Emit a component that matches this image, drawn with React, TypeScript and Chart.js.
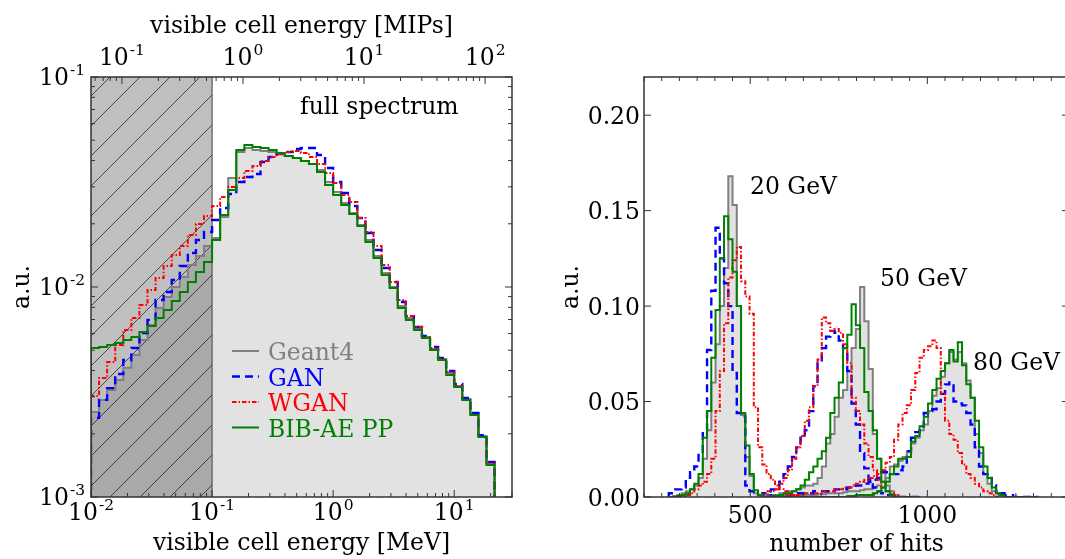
import React, { useEffect, useRef } from 'react';
import { Chart, registerables } from 'chart.js';

Chart.register(...registerables);

// ---------------- LEFT PANEL: full spectrum (log-log) ----------------
const ENERGY_EDGES_MEV = [
  0.01, 0.01166, 0.01359, 0.01585, 0.01848, 0.02154, 0.02512, 0.02929, 0.03415, 0.03981, 0.04642, 0.05412, 0.0631, 0.07356, 0.08577,
  0.1, 0.1166, 0.1359, 0.1585, 0.1848, 0.2154, 0.2512, 0.2929, 0.3415, 0.3981, 0.4642, 0.5412, 0.631, 0.7356, 0.8577,
  1, 1.166, 1.359, 1.585, 1.848, 2.154, 2.512, 2.929, 3.415, 3.981, 4.642, 5.412, 6.31, 7.356, 8.577,
  10, 11.66, 13.59, 15.85, 18.48, 21.54,
];
const SPEC_GEANT4 = [
  0.00254, 0.0029, 0.00323, 0.00361, 0.00412, 0.00475, 0.00559, 0.00659, 0.00794, 0.00896, 0.01, 0.01116, 0.01273, 0.01405, 0.01567,
  0.01711, 0.02154, 0.03304, 0.04394, 0.04592, 0.04493, 0.04444, 0.04394, 0.043, 0.04206, 0.04115, 0.03981, 0.03852, 0.03606, 0.03162,
  0.02835, 0.02512, 0.02251, 0.01973, 0.01674, 0.01405, 0.01166, 0.01, 0.00812, 0.00712, 0.00638, 0.00578, 0.00507, 0.00454, 0.0039,
  0.00338, 0.00293, 0.00248, 0.00195, 0.00145,
];
const SPEC_GAN = [
  0.00238, 0.0029, 0.0033, 0.00385, 0.00449, 0.00512, 0.00604, 0.00697, 0.00867, 0.00947, 0.0108, 0.01259, 0.01451, 0.01674, 0.01827,
  0.02085, 0.02378, 0.02772, 0.03162, 0.0334, 0.03452, 0.03938, 0.0416, 0.043, 0.04394, 0.04542, 0.04592, 0.04592, 0.04252, 0.03687,
  0.03162, 0.02804, 0.0243, 0.02131, 0.01807, 0.015, 0.01232, 0.01056, 0.00848, 0.00727, 0.00645, 0.00584, 0.00518, 0.00459, 0.00398,
  0.00345, 0.00296, 0.00251, 0.00197, 0.00147,
];
const SPEC_WGAN = [
  0.00303, 0.00369, 0.00439, 0.00529, 0.00624, 0.00712, 0.00821, 0.00968, 0.01104, 0.01259, 0.0142, 0.01567, 0.01768, 0.01995, 0.02178,
  0.0243, 0.02683, 0.02993, 0.03304, 0.03567, 0.03769, 0.03981, 0.0416, 0.043, 0.04394, 0.04444, 0.04347, 0.0416, 0.03852, 0.0349,
  0.03128, 0.02742, 0.0254, 0.02131, 0.01827, 0.01567, 0.01273, 0.01056, 0.00867, 0.00727, 0.00645, 0.00578, 0.00512, 0.00454, 0.00394,
  0.00338, 0.0029, 0.00246, 0.00193, 0.00144,
];
const SPEC_BIBAE = [
  0.00512, 0.00518, 0.00529, 0.00541, 0.00559, 0.00578, 0.0061, 0.00652, 0.00712, 0.00777, 0.00858, 0.00947, 0.01056, 0.01179, 0.01315,
  0.01674, 0.02202, 0.02897, 0.04493, 0.04744, 0.04642, 0.04592, 0.04493, 0.04347, 0.04206, 0.04115, 0.03981, 0.03852, 0.03527, 0.03059,
  0.02742, 0.02457, 0.02226, 0.01952, 0.01637, 0.01374, 0.01141, 0.00989, 0.00794, 0.00697, 0.00624, 0.00572, 0.00501, 0.00449, 0.00381,
  0.00334, 0.0029, 0.00246, 0.00193, 0.00142,
];
const MEV_PER_MIP = 0.18;
const ENERGY_RANGE_MEV = [0.01, 30];
const SPEC_Y_RANGE = [1e-3, 1e-1];
const HATCH_RANGE_MEV = [0.01, 0.1];
const MEV_TICK_EXPONENTS = [-2, -1, 0, 1];
const MIP_TICK_EXPONENTS = [-1, 0, 1, 2];
const SPEC_Y_TICK_EXPONENTS = [-3, -2, -1];

// ---------------- RIGHT PANEL: number of hits ----------------
const HIT_BIN_WIDTH = 12;
const HITS20_FIRST_EDGE = 270;
const HITS50_FIRST_EDGE = 534;
const HITS80_FIRST_EDGE = 606;

const HITS20_GEANT4 = [0, 0.0005, 0.001, 0.002, 0.003, 0.004, 0.006, 0.01, 0.02, 0.035, 0.06, 0.08, 0.1, 0.12, 0.168, 0.153, 0.1, 0.043, 0.021, 0.011, 0.002, 0.001, 0.0005, 0, 0, 0, 0, 0, 0, 0];
const HITS20_GAN = [0.002, 0.004, 0.004, 0.005, 0.01, 0.013, 0.016, 0.023, 0.035, 0.077, 0.108, 0.141, 0.125, 0.112, 0.1, 0.065, 0.044, 0.042, 0.006, 0.003, 0.002, 0.001, 0.001, 0.001, 0.0005, 0, 0, 0, 0, 0];
const HITS20_WGAN = [0, 0, 0, 0.0005, 0.001, 0.002, 0.004, 0.006, 0.008, 0.012, 0.02, 0.045, 0.066, 0.091, 0.115, 0.124, 0.131, 0.113, 0.105, 0.096, 0.047, 0.026, 0.017, 0.012, 0.009, 0.006, 0.004, 0.003, 0.002, 0.001];
const HITS20_BIBAE = [0, 0, 0.0005, 0.001, 0.002, 0.004, 0.007, 0.012, 0.031, 0.045, 0.073, 0.098, 0.125, 0.147, 0.135, 0.118, 0.1, 0.044, 0.027, 0.012, 0.0035, 0.001, 0, 0, 0, 0, 0, 0, 0, 0];

const HITS50_GEANT4 = [0.0005, 0.001, 0.001, 0.001, 0.002, 0.002, 0.003, 0.003, 0.004, 0.005, 0.006, 0.006, 0.007, 0.01, 0.016, 0.028, 0.033, 0.042, 0.052, 0.056, 0.066, 0.078, 0.088, 0.11, 0.092, 0.067, 0.033, 0.02, 0.014, 0.006, 0.003, 0.001, 0, 0, 0, 0, 0];
const HITS50_GAN = [0.002, 0.003, 0.004, 0.005, 0.008, 0.012, 0.016, 0.021, 0.026, 0.031, 0.035, 0.045, 0.058, 0.07, 0.078, 0.084, 0.087, 0.086, 0.082, 0.078, 0.066, 0.049, 0.038, 0.023, 0.015, 0.009, 0.005, 0.003, 0.002, 0.001, 0.001, 0, 0, 0, 0, 0, 0];
const HITS50_WGAN = [0.002, 0.003, 0.003, 0.004, 0.007, 0.01, 0.014, 0.02, 0.026, 0.032, 0.04, 0.047, 0.058, 0.072, 0.094, 0.091, 0.087, 0.088, 0.086, 0.08, 0.07, 0.052, 0.045, 0.038, 0.028, 0.021, 0.014, 0.009, 0.005, 0.003, 0.002, 0.001, 0, 0, 0, 0, 0];
const HITS50_BIBAE = [0, 0, 0.0005, 0.0005, 0.001, 0.002, 0.002, 0.003, 0.004, 0.006, 0.009, 0.013, 0.016, 0.02, 0.024, 0.031, 0.044, 0.052, 0.06, 0.078, 0.085, 0.101, 0.09, 0.078, 0.055, 0.045, 0.035, 0.02, 0.008, 0.003, 0.001, 0, 0, 0, 0, 0, 0];

const HITS80_GEANT4 = [
  0.0005, 0.0005, 0.001, 0.001, 0.001, 0.001, 0.001, 0.0015, 0.0015, 0.002,
  0.002, 0.002, 0.002, 0.0025, 0.003, 0.003, 0.003, 0.0035, 0.004, 0.004,
  0.005, 0.006, 0.008, 0.01, 0.016, 0.017, 0.019, 0.021, 0.024, 0.028,
  0.031, 0.035, 0.038, 0.045, 0.053, 0.057, 0.063, 0.07, 0.076, 0.072,
  0.076, 0.07, 0.061, 0.052, 0.033, 0.023, 0.012, 0.007, 0.003, 0.002,
  0.001, 0, 0, 0, 0, 0, 0, 0, 0,
];
const HITS80_GAN = [
  0.001, 0.001, 0.002, 0.002, 0.002, 0.002, 0.003, 0.003, 0.003, 0.003,
  0.003, 0.004, 0.004, 0.004, 0.005, 0.005, 0.006, 0.006, 0.007, 0.008,
  0.009, 0.01, 0.013, 0.013, 0.012, 0.012, 0.014, 0.016, 0.024, 0.031,
  0.034, 0.037, 0.044, 0.045, 0.046, 0.05, 0.054, 0.059, 0.06, 0.05,
  0.049, 0.048, 0.044, 0.038, 0.026, 0.016, 0.012, 0.01, 0.006, 0.003,
  0.002, 0.001, 0.001, 0, 0, 0, 0, 0, 0,
];
const HITS80_WGAN = [
  0.001, 0.001, 0.001, 0.001, 0.002, 0.002, 0.002, 0.002, 0.003, 0.003,
  0.003, 0.004, 0.004, 0.005, 0.005, 0.006, 0.007, 0.008, 0.009, 0.01,
  0.011, 0.012, 0.014, 0.018, 0.021, 0.03, 0.038, 0.044, 0.048, 0.056,
  0.065, 0.073, 0.077, 0.079, 0.082, 0.078, 0.054, 0.04, 0.033, 0.03,
  0.023, 0.017, 0.012, 0.01, 0.007, 0.005, 0.003, 0.002, 0.001, 0,
  0, 0, 0, 0, 0, 0, 0, 0, 0,
];
const HITS80_BIBAE = [
  0, 0, 0, 0, 0, 0, 0, 0, 0, 0,
  0, 0, 0, 0, 0.0005, 0.0005, 0.001, 0.001, 0.001, 0.001,
  0.002, 0.003, 0.005, 0.008, 0.012, 0.016, 0.02, 0.02, 0.021, 0.029,
  0.032, 0.037, 0.042, 0.049, 0.056, 0.062, 0.066, 0.07, 0.077, 0.071,
  0.081, 0.069, 0.059, 0.052, 0.04, 0.026, 0.016, 0.01, 0.005, 0.002,
  0.001, 0, 0, 0, 0, 0, 0, 0, 0,
];
const HITS_RANGE = [200, 1400];
const HITS_Y_RANGE = [0, 0.22];
const HITS_TICKS = [500, 1000];
const HITS_MINOR_STEP = 50;
const AU_TICKS = [0, 0.05, 0.1, 0.15, 0.2];
const ENERGY_LABELS = ['20 GeV', '50 GeV', '80 GeV'];

// ---------------- styling ----------------
const FONT_FAMILY = '"DejaVu Serif", serif';
const FS = 23.5;
const FS_EXP = 15.5;
const AXIS_COLOR = '#333333';
const FILL_COLOR = '#e2e2e2';
const MAJOR = 7;
const MINOR = 4;
const SERIES = [
  { name: 'Geant4', color: '#808080', dash: [] as number[], width: 2 },
  { name: 'GAN', color: '#0000ff', dash: [8, 5], width: 2.4 },
  { name: 'WGAN', color: '#ff0000', dash: [4.5, 2, 1.5, 2], width: 2 },
  { name: 'BIB-AE PP', color: '#008000', dash: [] as number[], width: 2 },
];

type Pt = { x: number; y: number };

function stepPoints(edges: number[], values: number[], floor: number): Pt[] {
  const pts: Pt[] = [{ x: edges[0], y: floor }];
  values.forEach((v, i) => pts.push({ x: edges[i], y: v }));
  pts.push({ x: edges[values.length], y: floor });
  return pts;
}

function regularEdges(first: number, width: number, nBins: number): number[] {
  return Array.from({ length: nBins + 1 }, (_, i) => first + i * width);
}

function font(size: number) {
  return `${size}px ${FONT_FAMILY}`;
}

function drawPow10(ctx: CanvasRenderingContext2D, exp: number, x: number, baseline: number, align: 'center' | 'right') {
  const expText = exp < 0 ? '-' + Math.abs(exp) : String(exp);
  ctx.font = font(FS);
  const wb = ctx.measureText('10').width;
  ctx.font = font(FS_EXP);
  const we = ctx.measureText(expText).width;
  const total = wb + we + 1;
  const x0 = align === 'center' ? x - total / 2 : x - total;
  ctx.textAlign = 'left';
  ctx.textBaseline = 'alphabetic';
  ctx.fillStyle = '#000';
  ctx.font = font(FS);
  ctx.fillText('10', x0, baseline);
  ctx.font = font(FS_EXP);
  ctx.fillText(expText, x0 + wb + 1, baseline - 10);
}

function logTickValues(min: number, max: number): { v: number; major: boolean }[] {
  const out: { v: number; major: boolean }[] = [];
  const n0 = Math.floor(Math.log10(min)) - 1;
  const n1 = Math.ceil(Math.log10(max)) + 1;
  for (let n = n0; n <= n1; n++) {
    for (let m = 1; m <= 9; m++) {
      const v = m * Math.pow(10, n);
      if (v >= min * 0.9999 && v <= max * 1.0001) out.push({ v, major: m === 1 });
    }
  }
  return out;
}

function lineDataset(pts: Pt[], s: { color: string; dash: number[]; width: number }, order: number) {
  return {
    data: pts,
    borderColor: s.color,
    borderWidth: s.width,
    borderDash: s.dash,
    backgroundColor: 'rgba(0,0,0,0)',
    fill: false,
    stepped: true,
    tension: 0,
    pointRadius: 0,
    pointHoverRadius: 0,
    order,
  };
}

function fillDataset(pts: Pt[], fill: string, order: number) {
  return {
    data: pts,
    borderColor: 'rgba(0,0,0,0)',
    borderWidth: 1,
    backgroundColor: FILL_COLOR,
    fill,
    stepped: true,
    tension: 0,
    pointRadius: 0,
    pointHoverRadius: 0,
    order,
  };
}

const leftDecor = {
  id: 'leftDecor',
  afterDatasetDraw(chart: any, args: any) {
    if (args.index !== 0) return;
    const { ctx, chartArea: a } = chart;
    const xs = chart.scales.x;
    const l = xs.getPixelForValue(HATCH_RANGE_MEV[0]);
    const r = xs.getPixelForValue(HATCH_RANGE_MEV[1]);
    ctx.save();
    ctx.beginPath();
    ctx.rect(l, a.top, r - l, a.bottom - a.top);
    ctx.clip();
    ctx.fillStyle = 'rgba(0,0,0,0.25)';
    ctx.fillRect(l, a.top, r - l, a.bottom - a.top);
    ctx.strokeStyle = 'rgba(30,30,30,0.75)';
    ctx.lineWidth = 1;
    ctx.setLineDash([]);
    ctx.beginPath();
    const step = 30;
    const c0 = l + a.top + 19;
    for (let c = c0 - step * 30; c <= r + a.bottom + step; c += step) {
      ctx.moveTo(c - a.top, a.top);
      ctx.lineTo(c - a.bottom, a.bottom);
    }
    ctx.stroke();
    ctx.restore();
    ctx.save();
    ctx.strokeStyle = '#555';
    ctx.lineWidth = 1.2;
    ctx.beginPath();
    ctx.moveTo(r, a.top);
    ctx.lineTo(r, a.bottom);
    ctx.stroke();
    ctx.restore();
  },
  afterDraw(chart: any) {
    const { ctx, chartArea: a } = chart;
    const xs = chart.scales.x;
    const xm = chart.scales.xMip;
    const ys = chart.scales.y;
    ctx.save();
    ctx.setLineDash([]);
    ctx.strokeStyle = AXIS_COLOR;
    ctx.lineWidth = 1;
    ctx.beginPath();
    logTickValues(ENERGY_RANGE_MEV[0], ENERGY_RANGE_MEV[1]).forEach(({ v, major }) => {
      const px = xs.getPixelForValue(v);
      ctx.moveTo(px, a.bottom);
      ctx.lineTo(px, a.bottom - (major ? MAJOR : MINOR));
    });
    logTickValues(ENERGY_RANGE_MEV[0] / MEV_PER_MIP, ENERGY_RANGE_MEV[1] / MEV_PER_MIP).forEach(({ v, major }) => {
      const px = xm.getPixelForValue(v);
      ctx.moveTo(px, a.top);
      ctx.lineTo(px, a.top + (major ? MAJOR : MINOR));
    });
    logTickValues(SPEC_Y_RANGE[0], SPEC_Y_RANGE[1]).forEach(({ v, major }) => {
      const py = ys.getPixelForValue(v);
      const len = major ? MAJOR : MINOR;
      ctx.moveTo(a.left, py);
      ctx.lineTo(a.left + len, py);
      ctx.moveTo(a.right, py);
      ctx.lineTo(a.right - len, py);
    });
    ctx.stroke();
    ctx.lineWidth = 1.5;
    ctx.strokeRect(a.left, a.top, a.right - a.left, a.bottom - a.top);

    // tick labels
    MEV_TICK_EXPONENTS.forEach((e) => drawPow10(ctx, e, xs.getPixelForValue(Math.pow(10, e)), 520, 'center'));
    MIP_TICK_EXPONENTS.forEach((e) => drawPow10(ctx, e, xm.getPixelForValue(Math.pow(10, e)), 65, 'center'));
    SPEC_Y_TICK_EXPONENTS.forEach((e) => drawPow10(ctx, e, 85, ys.getPixelForValue(Math.pow(10, e)) + 8, 'right'));

    // axis titles
    ctx.fillStyle = '#000';
    ctx.font = font(FS);
    ctx.textAlign = 'center';
    ctx.textBaseline = 'alphabetic';
    const cx = (a.left + a.right) / 2;
    ctx.fillText('visible cell energy [MeV]', cx, 550);
    ctx.fillText('visible cell energy [MIPs]', cx, 33);
    ctx.save();
    ctx.translate(29, (a.top + a.bottom) / 2);
    ctx.rotate(-Math.PI / 2);
    ctx.fillText('a.u.', 0, 0);
    ctx.restore();

    // annotation
    ctx.textAlign = 'left';
    ctx.fillText('full spectrum', 300, 114);

    // legend
    SERIES.forEach((s, i) => {
      const y = 351 + i * 25.5;
      ctx.strokeStyle = s.color;
      ctx.lineWidth = s.width;
      ctx.setLineDash(s.dash);
      ctx.beginPath();
      ctx.moveTo(232, y);
      ctx.lineTo(259, y);
      ctx.stroke();
      ctx.setLineDash([]);
      ctx.fillStyle = s.color;
      ctx.fillText(s.name, 268, y + 9);
    });
    ctx.restore();
  },
};

const rightDecor = {
  id: 'rightDecor',
  afterDraw(chart: any) {
    const { ctx, chartArea: a } = chart;
    const xs = chart.scales.x;
    const ys = chart.scales.y;
    ctx.save();
    ctx.setLineDash([]);
    ctx.strokeStyle = AXIS_COLOR;
    ctx.lineWidth = 1;
    ctx.beginPath();
    for (let h = HITS_RANGE[0]; h <= HITS_RANGE[1]; h += HITS_MINOR_STEP) {
      const px = xs.getPixelForValue(h);
      const len = HITS_TICKS.includes(h) ? MAJOR : MINOR;
      ctx.moveTo(px, a.bottom);
      ctx.lineTo(px, a.bottom - len);
      ctx.moveTo(px, a.top);
      ctx.lineTo(px, a.top + len);
    }
    AU_TICKS.forEach((v) => {
      const py = ys.getPixelForValue(v);
      ctx.moveTo(a.left, py);
      ctx.lineTo(a.left + MAJOR, py);
      ctx.moveTo(a.right, py);
      ctx.lineTo(a.right - MAJOR, py);
    });
    ctx.stroke();
    ctx.lineWidth = 1.5;
    ctx.strokeRect(a.left, a.top, a.right - a.left, a.bottom - a.top);

    ctx.fillStyle = '#000';
    ctx.font = font(FS);
    ctx.textBaseline = 'alphabetic';
    ctx.textAlign = 'right';
    AU_TICKS.forEach((v) => ctx.fillText(v.toFixed(2), a.left - 4, ys.getPixelForValue(v) + 8.5));
    ctx.textAlign = 'center';
    HITS_TICKS.forEach((h) => ctx.fillText(String(h), xs.getPixelForValue(h), 523));
    ctx.fillText('number of hits', (a.left + a.right) / 2, 551);
    ctx.save();
    ctx.translate(38, (a.top + a.bottom) / 2);
    ctx.rotate(-Math.PI / 2);
    ctx.fillText('a.u.', 0, 0);
    ctx.restore();

    ctx.textAlign = 'left';
    ctx.fillText(ENERGY_LABELS[0], 210, 194);
    ctx.fillText(ENERGY_LABELS[1], 340, 286);
    ctx.fillText(ENERGY_LABELS[2], 433, 370);
    ctx.restore();
  },
};

export default function App() {
  const leftRef = useRef<HTMLCanvasElement>(null);
  const rightRef = useRef<HTMLCanvasElement>(null);

  useEffect(() => {
    const floorLog = 1e-6;
    const leftSeries = [SPEC_GEANT4, SPEC_GAN, SPEC_WGAN, SPEC_BIBAE];
    const leftDatasets: any[] = [fillDataset(stepPoints(ENERGY_EDGES_MEV, SPEC_GEANT4, floorLog), 'start', 10)];
    leftSeries.forEach((vals, i) => {
      leftDatasets.push(lineDataset(stepPoints(ENERGY_EDGES_MEV, vals, floorLog), SERIES[i], 5 - i));
    });

    const left = new Chart(leftRef.current as HTMLCanvasElement, {
      type: 'line',
      data: { datasets: leftDatasets },
      options: {
        responsive: false,
        animation: false,
        events: [],
        layout: { padding: { left: 91, right: 28, top: 77, bottom: 62 } },
        plugins: { legend: { display: false }, tooltip: { enabled: false }, title: { display: false } },
        scales: {
          x: { type: 'logarithmic', min: ENERGY_RANGE_MEV[0], max: ENERGY_RANGE_MEV[1], display: false },
          xMip: {
            type: 'logarithmic',
            axis: 'x',
            position: 'top',
            min: ENERGY_RANGE_MEV[0] / MEV_PER_MIP,
            max: ENERGY_RANGE_MEV[1] / MEV_PER_MIP,
            display: false,
          },
          y: { type: 'logarithmic', min: SPEC_Y_RANGE[0], max: SPEC_Y_RANGE[1], display: false },
        },
      } as any,
      plugins: [leftDecor],
    });

    const e20 = regularEdges(HITS20_FIRST_EDGE, HIT_BIN_WIDTH, HITS20_GEANT4.length);
    const e50 = regularEdges(HITS50_FIRST_EDGE, HIT_BIN_WIDTH, HITS50_GEANT4.length);
    const e80 = regularEdges(HITS80_FIRST_EDGE, HIT_BIN_WIDTH, HITS80_GEANT4.length);
    const groups = [
      { edges: e20, series: [HITS20_GEANT4, HITS20_GAN, HITS20_WGAN, HITS20_BIBAE] },
      { edges: e50, series: [HITS50_GEANT4, HITS50_GAN, HITS50_WGAN, HITS50_BIBAE] },
      { edges: e80, series: [HITS80_GEANT4, HITS80_GAN, HITS80_WGAN, HITS80_BIBAE] },
    ];
    const rightDatasets: any[] = [];
    groups.forEach((g) => rightDatasets.push(fillDataset(stepPoints(g.edges, g.series[0], 0), 'origin', 20)));
    groups.forEach((g) => {
      g.series.forEach((vals, i) => {
        rightDatasets.push(lineDataset(stepPoints(g.edges, vals, 0), SERIES[i], 10 - i));
      });
    });

    const right = new Chart(rightRef.current as HTMLCanvasElement, {
      type: 'line',
      data: { datasets: rightDatasets },
      options: {
        responsive: false,
        animation: false,
        events: [],
        layout: { padding: { left: 104, right: 11, top: 77, bottom: 62 } },
        plugins: { legend: { display: false }, tooltip: { enabled: false }, title: { display: false } },
        scales: {
          x: { type: 'linear', min: HITS_RANGE[0], max: HITS_RANGE[1], display: false },
          y: { type: 'linear', min: HITS_Y_RANGE[0], max: HITS_Y_RANGE[1], display: false },
        },
      } as any,
      plugins: [rightDecor],
    });

    return () => {
      left.destroy();
      right.destroy();
    };
  }, []);

  return (
    <div style={{ position: 'fixed', left: 0, top: 0, width: 1065, height: 559, overflow: 'hidden', background: '#fff' }}>
      <canvas ref={leftRef} width={540} height={559} style={{ position: 'absolute', left: 0, top: 0 }} />
      <canvas ref={rightRef} width={540} height={559} style={{ position: 'absolute', left: 540, top: 0 }} />
    </div>
  );
}
